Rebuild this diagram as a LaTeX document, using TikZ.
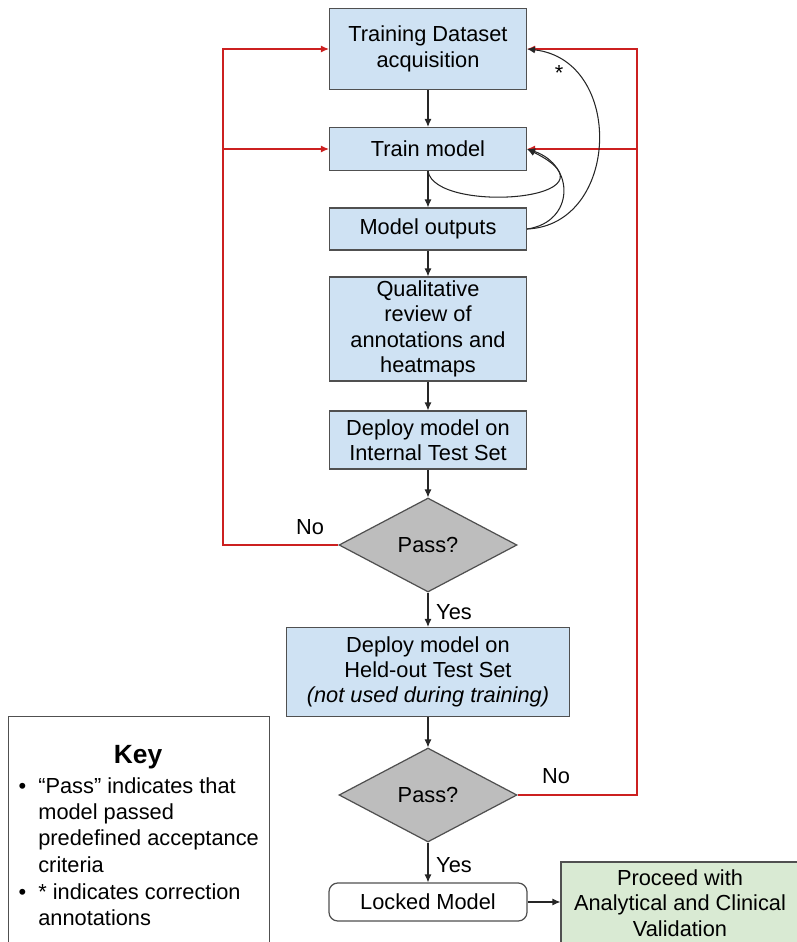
\documentclass[tikz,border=0pt]{standalone}
\usepackage{fontspec}
\setmainfont{Liberation Sans}
\usetikzlibrary{positioning, arrows.meta, shapes.geometric}

\definecolor{stepblue}{HTML}{CFE2F3}
\definecolor{passgray}{HTML}{BDBDBD}
\definecolor{okgreen}{HTML}{D9EAD3}
\definecolor{edgegray}{HTML}{505050}
\definecolor{loopred}{HTML}{CC2020}

\begin{document}
\begin{tikzpicture}[
    % Process box style - light blue with grey border
    stepbox/.style={
        rectangle,
        draw=edgegray,
        fill=stepblue,
        line width=0.7pt,
        minimum width=3.94cm,
        align=center,
        font=\fontsize{12.4}{14.4}\selectfont
    },
    % Decision style - grey diamond
    decision/.style={
        diamond,
        draw=edgegray,
        fill=passgray,
        line width=0.7pt,
        minimum width=3.56cm,
        minimum height=1.88cm,
        inner sep=0pt,
        font=\fontsize{12.4}{14.4}\selectfont
    },
    % Arrow style - thin black
    arrow/.style={
        -{Latex[length=4.5pt, width=4pt]},
        line width=0.6pt,
        black!85
    },
    % Feedback arrow style - red
    redarrow/.style={
        -{Latex[length=4.5pt, width=4pt]},
        line width=0.6pt,
        loopred
    },
    % Label style
    lbl/.style={
        font=\fontsize{12.4}{14.4}\selectfont
    }
]

\useasboundingbox (0,0) rectangle (15.94,-18.84);

% === Main flow ===
\node[stepbox, minimum height=1.62cm] (dataset) at (8.56,-0.98) {Training Dataset\\acquisition};
\node[stepbox, minimum height=0.86cm] (train) at (8.56,-2.98) {Train model};
\node[stepbox, minimum height=0.84cm] (outputs) at (8.56,-4.58) {Model outputs};
\node[stepbox, minimum height=2.08cm, inner ysep=1pt] (review) at (8.56,-6.58)
      {Qualitative\\review of\\annotations and\\heatmaps};
\node[stepbox, minimum height=1.16cm] (internal) at (8.56,-8.80) {Deploy model on\\Internal Test Set};
\node[decision] (pass1) at (8.56,-10.90) {Pass?};
\node[stepbox, minimum width=5.66cm, minimum height=1.78cm] (heldout) at (8.56,-13.44)
      {Deploy model on\\Held-out Test Set\\\textit{(not used during training)}};
\node[decision] (pass2) at (8.56,-15.90) {Pass?};
\node[rectangle, rounded corners=5pt, draw=edgegray, fill=white, line width=0.7pt,
      minimum width=3.96cm, minimum height=0.76cm, font=\fontsize{12.4}{14.4}\selectfont]
      (locked) at (8.56,-18.04) {Locked Model};
\node[stepbox, fill=okgreen, minimum width=4.76cm, minimum height=1.64cm] (validation) at (13.60,-18.06)
      {Proceed with\\Analytical and Clinical\\Validation};

% === Arrows between steps ===
\draw[arrow] (dataset) -- (train);
\draw[arrow] (train) -- (outputs);
\draw[arrow] (outputs) -- (review);
\draw[arrow] (review) -- (internal);
\draw[arrow] (internal) -- (pass1);
\draw[arrow] (pass1) -- (heldout);
\draw[arrow] (heldout) -- (pass2);
\draw[arrow] (pass2) -- (locked);
\draw[arrow] (locked.east) -- (locked.east -| validation.west);

% === Feedback loops (red) ===
\coordinate (lrail) at (4.46,0);
\coordinate (rrail) at (12.74,0);
\draw[redarrow] (pass1.west) -- (pass1.west -| lrail) |- (dataset.west);
\draw[redarrow] (train.west -| lrail) -- (train.west);
\draw[redarrow] (pass2.east) -- (pass2.east -| rrail) |- (dataset.east);
\draw[redarrow] (train.east -| rrail) -- (train.east);

% === Correction curves ===
\draw[arrow] (train.south) .. controls (8.70,-4.30) and (12.6,-4.00) .. (train.east);
\draw[arrow] (outputs.east) .. controls (11.5,-4.44) and (11.5,-3.30) .. (train.east);
\draw[arrow] (outputs.east) .. controls (12.4,-4.50) and (12.5,-1.20) .. (dataset.east);
\node[lbl] (star) at (11.18,-1.46) {*};

% === Decision labels ===
\node[lbl] (no1) at (6.20,-10.54) {No};
\node[lbl] (yes1) at (9.08,-12.24) {Yes};
\node[lbl] (no2) at (11.12,-15.52) {No};
\node[lbl] (yes2) at (9.08,-17.30) {Yes};

% === Key (bottom left) ===
\node[rectangle, draw=edgegray, line width=0.7pt, anchor=north west,
      minimum width=5.22cm, minimum height=4.8cm] (key) at (0.16,-14.32) {};
\node[font=\fontsize{15}{18}\selectfont\bfseries] (keytitle) at (2.76,-15.14) {Key};
\node[anchor=north west, inner sep=0pt, align=left, font=\fontsize{12.4}{15}\selectfont]
      (item1) at (0.76,-15.54)
      {\llap{\textbullet\hspace{0.24cm}}``Pass'' indicates that\\model passed\\predefined acceptance\\criteria};
\node[anchor=north west, inner sep=0pt, align=left, font=\fontsize{12.4}{15}\selectfont]
      (item2) at (0.76,-17.66)
      {\llap{\textbullet\hspace{0.24cm}}* indicates correction\\annotations};

\end{tikzpicture}
\end{document}
